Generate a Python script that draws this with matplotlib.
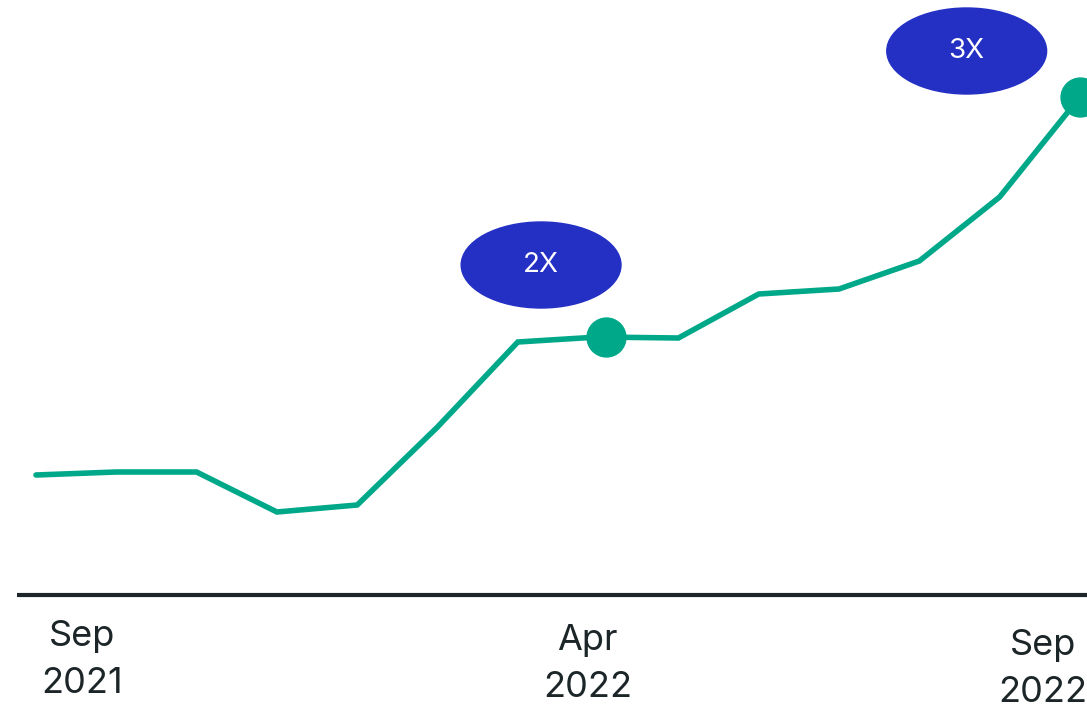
import matplotlib.pyplot as plt
from matplotlib.patches import Ellipse

# ── Data ───────────────────────────────────────────────────────
period = list(range(14))
growth = [120, 123, 123, 83, 90, 168, 253, 258, 257, 301, 306, 334, 398, 498]

highlight_x = [7.1, 13]
highlight_y = [258, 498]

badge_labels = ["2X", "3X"]
badge_x = [6.29, 11.59]
badge_y = [330, 544]

tick_pos = [0.57, 6.87, 12.54]
tick_labels = ["Sep\n2021", "Apr\n2022", "Sep\n2022"]

GREEN = "#00a88a"
BLUE = "#2430c4"
DARK = "#1c2628"

plt.rcParams["font.family"] = ["Inter", "DejaVu Sans"]

# ── Figure ─────────────────────────────────────────────────────
fig = plt.figure(figsize=(10.87, 7.07), dpi=100)
ax = fig.add_axes([0, 0, 1, 1])
ax.set_xlim(-0.448, 13.088)
ax.set_ylim(-112, 595)
ax.axis("off")

# baseline
ax.axhline(0, xmin=17 / 1087, xmax=1, color=DARK, linewidth=3, solid_capstyle="butt")

# growth line + milestones
ax.plot(period, growth, color=GREEN, linewidth=4, solid_capstyle="round",
        solid_joinstyle="miter", zorder=3)
ax.plot(highlight_x, highlight_y, "o", color=GREEN, markersize=28, zorder=4)

for label, bx, by in zip(badge_labels, badge_x, badge_y):
    ax.add_patch(Ellipse((bx, by), 1.99, 86, color=BLUE, zorder=5))
    ax.text(bx, by, label, color="white", fontsize=20, ha="center", va="center", zorder=6)

# date labels under the baseline
for pos, lab, dy in zip(tick_pos, tick_labels, [0, 4, 9]):
    ax.text(pos, -65 - dy, lab, color=DARK, fontsize=26, ha="center", va="center",
            linespacing=1.55)

fig.savefig("out.png", dpi=100)
